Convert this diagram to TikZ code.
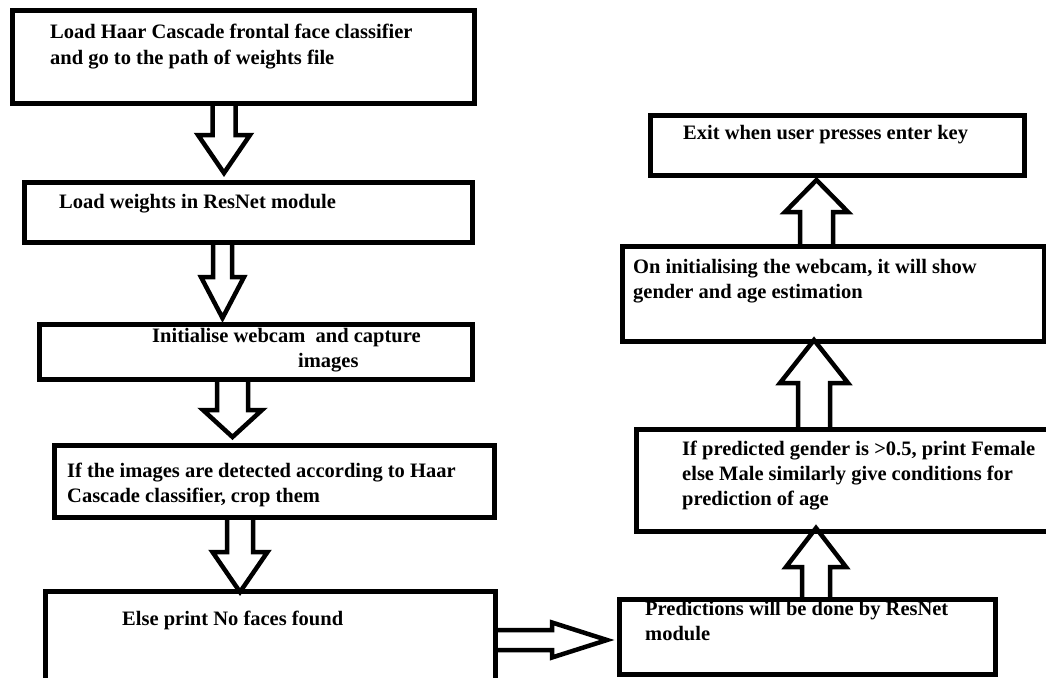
\documentclass[tikz,border=0pt]{standalone}
\usepackage{fontspec}
\setmainfont{Liberation Serif}
\usetikzlibrary{calc}

\newcommand{\blockarrow}[5]{%
	\coordinate (ah) at ($(#2)!#5pt!(#1)$);
	\draw[arrowline] ($(#1)!#3pt!90:(#2)$) -- ($(ah)!#3pt!-90:(#1)$) -- ($(ah)!#4pt!-90:(#1)$) -- (#2)
		-- ($(ah)!#4pt!90:(#1)$) -- ($(ah)!#3pt!90:(#1)$) -- ($(#1)!#3pt!-90:(#2)$);
}

\begin{document}
\begin{tikzpicture}[x=1pt, y=-1pt,
	box/.style={draw, line width=5pt, inner sep=0pt, anchor=north west},
	txt/.style={anchor=base west, align=left, inner sep=0pt, font=\fontsize{20.5}{25}\selectfont\bfseries},
	arrowline/.style={line width=4.5pt}]
\useasboundingbox (0,0) rectangle (1046,677);

\node[box, minimum width=462pt, minimum height=93pt] (b1) at (10,8) {};
\node[box, minimum width=448pt, minimum height=60pt] (b2) at (22,180) {};
\node[box, minimum width=433pt, minimum height=55pt] (b3) at (37,322) {};
\node[box, minimum width=440pt, minimum height=72pt] (b4) at (52,443) {};
\node[box, minimum width=450pt, minimum height=101pt] (b5) at (43,589) {};
\node[box, minimum width=376pt, minimum height=75pt] (b6) at (617,597) {};
\node[box, minimum width=418pt, minimum height=102pt] (b7) at (634,427) {};
\node[box, minimum width=422pt, minimum height=95pt] (b8) at (620,244) {};
\node[box, minimum width=374pt, minimum height=60pt] (b9) at (648,113) {};

% base of the last line
\node[txt] (t1) at (50,64) {Load Haar Cascade frontal face classifier\\and go to the path of weights file};
\node[txt] (t2) at (59,208) {Load weights in ResNet module};
\node[txt] (t3) at (152,367) {Initialise webcam\ \ and capture\\\hspace*{146pt}images};
\node[txt] (t4) at (67,502) {If the images are detected according to Haar\\Cascade classifier, crop them};
\node[txt] (t5) at (122,625) {Else print No faces found};
\node[txt] (t6) at (645,640) {Predictions will be done by ResNet\\module};
\node[txt] (t7) at (682,505) {If predicted gender is >0.5, print Female\\else Male similarly give conditions for\\prediction of age};
\node[txt] (t8) at (633,298) {On initialising the webcam, it will show\\gender and age estimation};
\node[txt] (t9) at (683,139) {Exit when user presses enter key};

\coordinate (a1s) at (224,0 |- b1.south);
\coordinate (a1t) at ($(224,0 |- b2.north)+(0,-7)$);
\blockarrow{a1s}{a1t}{11.5}{26}{38}
\coordinate (a2s) at (222.5,0 |- b2.south);
\coordinate (a2t) at ($(222.5,0 |- b3.north)+(0,-4)$);
\blockarrow{a2s}{a2t}{9.5}{21.5}{41}
\coordinate (a3s) at (232.5,0 |- b3.south);
\coordinate (a3t) at ($(232.5,0 |- b4.north)+(0,-6)$);
\blockarrow{a3s}{a3t}{15.5}{29.5}{27}
\coordinate (a4s) at (240,0 |- b4.south);
\coordinate (a4t) at ($(240,0 |- b5.north)+(0,3)$);
\blockarrow{a4s}{a4t}{13}{27.5}{40}
\coordinate (a5s) at (b5.east |- 0,640);
\coordinate (a5t) at ($(b6.west |- 0,640)+(-10,0)$);
\blockarrow{a5s}{a5t}{10}{17.5}{55}
\coordinate (a6s) at (816,0 |- b6.north);
\coordinate (a6t) at ($(816,0 |- b7.south)+(0,-6)$);
\blockarrow{a6s}{a6t}{14}{30}{39}
\coordinate (a7s) at (814,0 |- b7.north);
\coordinate (a7t) at ($(814,0 |- b8.south)+(0,-4)$);
\blockarrow{a7s}{a7t}{16}{34}{43}
\coordinate (a8s) at (816.5,0 |- b8.north);
\coordinate (a8t) at ($(816.5,0 |- b9.south)+(0,2)$);
\blockarrow{a8s}{a8t}{16.5}{31.5}{32}
\end{tikzpicture}
\end{document}
